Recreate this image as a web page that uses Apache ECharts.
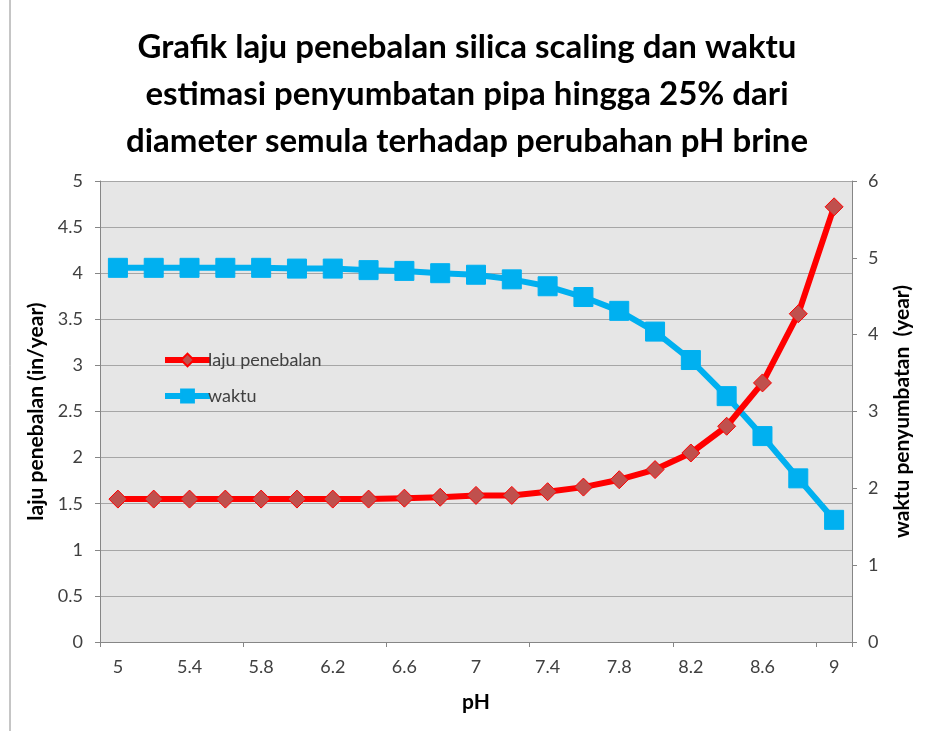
<!DOCTYPE html>
<html>
<head>
<meta charset="utf-8">
<script src="https://cdn.jsdelivr.net/npm/echarts@6/dist/echarts.min.js"></script>
<style>
  html, body { margin: 0; padding: 0; background: #fff; }
  #chart { width: 935px; height: 731px; }
</style>
</head>
<body>
<div id="chart"></div>
<script>
    'use strict'

    // pH categories (5 to 9, step 0.2)
    const phLabels = ['5', '5.2', '5.4', '5.6', '5.8', '6', '6.2', '6.4', '6.6', '6.8', '7',
        '7.2', '7.4', '7.6', '7.8', '8', '8.2', '8.4', '8.6', '8.8', '9'];

    // laju penebalan (in/year), left axis
    const lajuData = [1.55, 1.55, 1.55, 1.55, 1.55, 1.55, 1.55, 1.55, 1.56, 1.57, 1.59,
        1.59, 1.63, 1.68, 1.76, 1.87, 2.05, 2.34, 2.81, 3.56, 4.72];

    // waktu penyumbatan (year), right axis
    const waktuData = [4.87, 4.87, 4.87, 4.87, 4.87, 4.86, 4.86, 4.84, 4.83, 4.80, 4.78,
        4.72, 4.63, 4.49, 4.31, 4.04, 3.67, 3.20, 2.68, 2.13, 1.59];

    const titleLines = [
        'Grafik laju penebalan silica scaling dan waktu',
        'estimasi penyumbatan pipa hingga 25% dari',
        'diameter semula terhadap perubahan pH brine'
    ];

    var dom = document.getElementById('chart');
    var myChart = echarts.init(dom);
    var option;

    var font = 'Lato';
    var labelColor = '#404040';

    option = {
        backgroundColor: '#ffffff',
        graphic: [
            {
                type: 'line',
                shape: { x1: 10, y1: 0, x2: 10, y2: 731 },
                style: { stroke: '#8c8c8c', lineWidth: 1 }
            },
            {
                type: 'text',
                x: 467,
                y: 24,
                style: {
                    text: titleLines.join('\n'),
                    align: 'center',
                    verticalAlign: 'top',
                    fontFamily: font,
                    fontWeight: 'bold',
                    fontSize: 33,
                    lineHeight: 47,
                    fill: '#000000'
                }
            }
        ],
        legend: {
            orient: 'vertical',
            left: 157,
            top: 346,
            itemWidth: 45,
            itemHeight: 16,
            itemGap: 18,
            lineStyle: { width: 6 },
            textStyle: {
                fontFamily: font,
                fontSize: 18,
                color: labelColor,
                padding: [0, 0, 0, -7]
            },
            data: ['laju penebalan', 'waktu']
        },
        grid: {
            left: 100,
            right: 83,
            top: 181,
            bottom: 89,
            show: true,
            backgroundColor: '#e6e6e6',
            borderWidth: 0
        },
        xAxis: {
            type: 'category',
            data: phLabels,
            boundaryGap: true,
            name: 'pH',
            nameLocation: 'middle',
            nameGap: 50,
            nameTextStyle: {
                fontFamily: font,
                fontWeight: 'bold',
                fontSize: 21,
                color: '#000000'
            },
            axisLine: { lineStyle: { color: '#868686', width: 1 } },
            axisTick: { show: true, interval: 3, length: 5, lineStyle: { color: '#868686' } },
            axisLabel: {
                interval: 1,
                margin: 16,
                fontFamily: font,
                fontSize: 18,
                color: labelColor
            },
            splitLine: { show: false }
        },
        yAxis: [
            {
                type: 'value',
                min: 0,
                max: 5,
                interval: 0.5,
                name: 'laju penebalan (in/year)',
                nameLocation: 'middle',
                nameRotate: 90,
                nameGap: 47,
                nameTextStyle: {
                    fontFamily: font,
                    fontWeight: 'bold',
                    fontSize: 21,
                    color: '#000000'
                },
                axisLine: { show: true, lineStyle: { color: '#868686', width: 1 } },
                axisTick: { show: true, length: 5, lineStyle: { color: '#868686' } },
                axisLabel: {
                    margin: 17,
                    fontFamily: font,
                    fontSize: 18,
                    color: labelColor
                },
                splitLine: { show: true, lineStyle: { color: '#a6a6a6', width: 1 } }
            },
            {
                type: 'value',
                min: 0,
                max: 6,
                interval: 1,
                position: 'right',
                name: 'waktu penyumbatan  (year)',
                nameLocation: 'middle',
                nameRotate: 90,
                nameGap: 40,
                nameTextStyle: {
                    fontFamily: font,
                    fontWeight: 'bold',
                    fontSize: 21,
                    color: '#000000'
                },
                axisLine: { show: true, lineStyle: { color: '#868686', width: 1 } },
                axisTick: { show: true, length: 5, lineStyle: { color: '#868686' } },
                axisLabel: {
                    margin: 16,
                    fontFamily: font,
                    fontSize: 18,
                    color: labelColor
                },
                splitLine: { show: false }
            }
        ],
        series: [
            {
                name: 'laju penebalan',
                type: 'line',
                yAxisIndex: 0,
                data: lajuData,
                symbol: 'diamond',
                symbolSize: 18,
                showAllSymbol: true,
                z: 3,
                lineStyle: { color: '#ff0000', width: 6 },
                itemStyle: { color: '#c0504d', borderColor: '#ff0000', borderWidth: 1 }
            },
            {
                name: 'waktu',
                type: 'line',
                yAxisIndex: 1,
                data: waktuData,
                symbol: 'rect',
                symbolSize: 19,
                showAllSymbol: true,
                z: 2,
                lineStyle: { color: '#00b0f0', width: 6 },
                itemStyle: { color: '#00b0f0', borderColor: '#00b0f0', borderWidth: 1 }
            }
        ]
    };

    if (option && typeof option === 'object') {
        myChart.setOption(option);
    }
</script>
</body>
</html>
